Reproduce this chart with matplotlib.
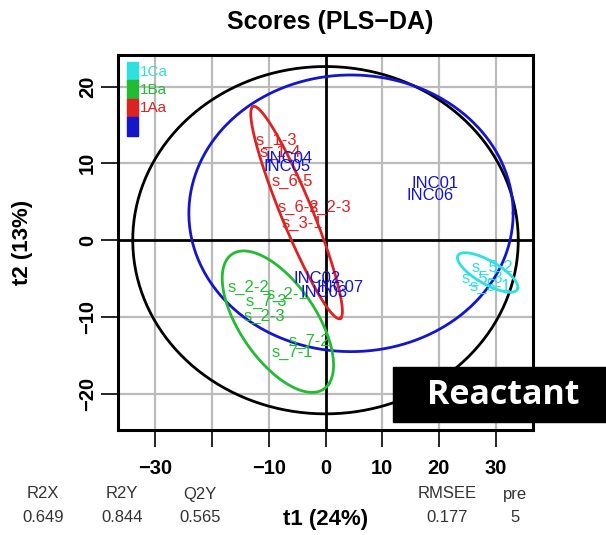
import numpy as np
import matplotlib
matplotlib.use("Agg")
import matplotlib.pyplot as plt
from matplotlib.patches import Rectangle

plt.rcParams["font.family"] = ["Liberation Sans", "DejaVu Sans"]

# group colours
groups = ["1Ca", "1Ba", "1Aa", ""]
colors = ["#2EE0E0", "#22BB33", "#DD2222", "#1515CC"]

# sample labels (text, t1, t2)
red_labels = ["s_1-3", "s_1-4", "s_6-5", "s_6-2", "s_2-3", "s_3-1"]
red_x = [-8.6, -8.0, -5.8, -4.8, 0.8, -4.0]
red_y = [13.0, 11.4, 7.6, 4.2, 4.2, 2.2]

blue_labels = ["INC04", "INC05", "INC01", "INC06", "INC02", "INC07", "INC03"]
blue_x = [-6.5, -6.8, 19.4, 18.5, -1.4, 2.6, -0.3]
blue_y = [10.6, 9.6, 7.4, 5.8, -5.0, -6.1, -6.8]

green_labels = ["s_2-2", "s_2-1", "s_7-3", "s_2-3", "s_7-2", "s_7-1"]
green_x = [-13.5, -6.8, -10.5, -10.8, -2.8, -5.8]
green_y = [-6.1, -7.0, -8.0, -9.9, -13.2, -14.6]

cyan_labels = ["s_5-2", "s_5-3", "s_5-1"]
cyan_x = [29.5, 27.6, 29.0]
cyan_y = [-3.6, -5.0, -6.0]

# confidence ellipses: centre x, centre y, semi-major, semi-minor, angle (deg, data space)
ell_cx = [0.0, 4.5, -5.1, -8.4, 28.6]
ell_cy = [0.0, 3.5, 3.6, -10.6, -4.2]
ell_a = [34.0, 28.6, 15.8, 12.1, 5.7]
ell_b = [22.6, 18.0, 2.6, 5.9, 1.6]
ell_ang = [0.0, 0.0, -60.6, -42.0, -21.6]
ell_col = ["black", colors[3], colors[2], colors[1], colors[0]]

# model summary
stat_names = ["R2X", "R2Y", "Q2Y", "RMSEE", "pre"]
stat_vals = ["0.649", "0.844", "0.565", "0.177", "5"]
stat_xpos = [43, 122, 200, 447, 515]

fig = plt.figure(figsize=(6.06, 5.35), dpi=100)
ax = fig.add_axes([118 / 606, 1 - 430 / 535, 415 / 606, 375 / 535])
ax.set_xlim(-36.6, 36.6)
ax.set_ylim(-24.7, 24.1)

# grid and zero lines
for gx in [-30, -20, -10, 10, 20, 30]:
    ax.axvline(gx, color="#BBBBBB", lw=1.6, zorder=0)
for gy in [-20, -10, 10, 20]:
    ax.axhline(gy, color="#BBBBBB", lw=1.6, zorder=0)
ax.axvline(0, color="black", lw=2, zorder=1)
ax.axhline(0, color="black", lw=2, zorder=1)

# ellipses
t = np.linspace(0, 2 * np.pi, 300)
for cx, cy, a, b, ang, c in zip(ell_cx, ell_cy, ell_a, ell_b, ell_ang, ell_col):
    th = np.deg2rad(ang)
    ex = cx + a * np.cos(t) * np.cos(th) - b * np.sin(t) * np.sin(th)
    ey = cy + a * np.cos(t) * np.sin(th) + b * np.sin(t) * np.cos(th)
    ax.plot(ex, ey, color=c, lw=2, zorder=2)

# sample labels
for labs, xs, ys, c in [(red_labels, red_x, red_y, colors[2]),
                        (green_labels, green_x, green_y, colors[1]),
                        (cyan_labels, cyan_x, cyan_y, colors[0]),
                        (blue_labels, blue_x, blue_y, colors[3])]:
    for s, x, y in zip(labs, xs, ys):
        ax.text(x, y, s, color=c, fontsize=12, ha="center", va="center", zorder=3)

# legend boxes
for i, (g, c) in enumerate(zip(groups, colors)):
    y0 = 0.981 - (i + 1) * 0.049
    ax.add_patch(Rectangle((0.022, y0), 0.027, 0.049, color=c,
                           transform=ax.transAxes, zorder=4))
    ax.text(0.052, y0 + 0.024, g, color=c, fontsize=11, va="center",
            transform=ax.transAxes, zorder=4)

# ticks
xt = [-30, -20, -10, 0, 10, 20, 30]
ax.set_xticks(xt)
ax.set_xticklabels(["\u221230", "", "\u221210", "0", "10", "20", "30"],
                   fontsize=14.5, fontweight="bold")
ax.set_yticks([-20, -10, 0, 10, 20])
ax.set_yticklabels(["\u221220", "\u221210", "0", "10", "20"],
                   fontsize=14.5, fontweight="bold", rotation=90, va="center")
ax.tick_params(direction="out", length=12, width=1.2)
ax.tick_params(axis="x", pad=9)
ax.tick_params(axis="y", pad=3)
for sp in ax.spines.values():
    sp.set_linewidth(2.2)

ax.set_ylabel("t2 (13%)", fontsize=16, fontweight="bold")
ax.yaxis.set_label_coords(-0.205, 0.5)
fig.text(326 / 606, 1 - 519 / 535, "t1 (24%)", fontsize=16, fontweight="bold",
         ha="center", va="center")
fig.text(330 / 606, 1 - 22 / 535, "Scores (PLS\u2212DA)", fontsize=18,
         fontweight="bold", ha="center", va="center")

for n, v, px in zip(stat_names, stat_vals, stat_xpos):
    fig.text(px / 606, 1 - 494 / 535, n, fontsize=12, color="#333333",
             ha="center", va="center")
    fig.text(px / 606, 1 - 518 / 535, v, fontsize=12, color="#333333",
             ha="center", va="center")

# Reactant tag
fig.patches.append(Rectangle((393 / 606, 1 - 422 / 535), 213 / 606, 55 / 535,
                             color="black", transform=fig.transFigure, zorder=10))
fig.text(503 / 606, 1 - 395 / 535, "Reactant", color="white", fontsize=24.5,
         fontweight="bold", ha="center", va="center", zorder=11,
         family=["Open Sans", "DejaVu Sans"])

fig.savefig("out.png", dpi=100)
